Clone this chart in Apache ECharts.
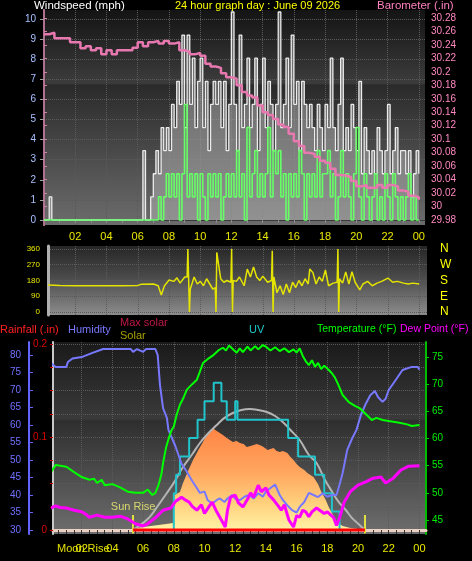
<!DOCTYPE html>
<html><head><meta charset="utf-8">
<script src="https://cdn.jsdelivr.net/npm/echarts@6/dist/echarts.min.js"></script>
<style>html,body{margin:0;padding:0;background:#000;}#c{width:472px;height:561px;}</style>
</head><body><div id="c"></div>
<script>
// ---------- DATA ----------
const hourLabelValues = [2,4,6,8,10,12,14,16,18,20,22,24];
const hourLabelText = ['02','04','06','08','10','12','14','16','18','20','22','00'];
const hourTickValues = [1,2,3,4,5,6,7,8,9,10,11,12,13,14,15,16,17,18,19,20,21,22,23,24];
const halfHourTicks = [0.5,1,1.5,2,2.5,3,3.5,4,4.5,5,5.5,6,6.5,7,7.5,8,8.5,9,9.5,10,10.5,11,11.5,12,12.5,13,13.5,14,14.5,15,15.5,16,16.5,17,17.5,18,18.5,19,19.5,20,20.5,21,21.5,22,22.5,23,23.5,24];

const windLabels = [0,1,2,3,4,5,6,7,8,9,10];
const baroLabels = [29.98,30,30.02,30.04,30.06,30.08,30.1,30.12,30.14,30.16,30.18,30.2,30.22,30.24,30.26,30.28];
const dirLabels = [0,90,180,270,360];
const compassText = ['N','E','S','W','N'];
const humLabels = [30,35,40,45,50,55,60,65,70,75,80];
const rainLabels = [0,0.1,0.2];
const rainTicks = [0,0.025,0.05,0.075,0.1,0.125,0.15,0.175,0.2];
const tempLabels = [45,50,55,60,65,70,75];

// wind: 10-minute samples 00:00 .. 24:00
const windTimes = Array.from({length:145}, (_, i) => i / 6);
const gustMph = [
 0,0,1.15,0,0,0,
 0,0,0,0,0,0,
 0,0,0,0,0,0,
 0,0,0,0,0,0,
 0,0,0,0,0,0,
 0,0,0,0,0,0,
 0,0,3.45,0,0,1.15,
 2.3,3.45,2.3,4.6,3.45,4.6,
 3.45,5.75,4.6,6.9,5.75,9.2,
 4.6,9.2,5.75,8.05,4.6,6.9,
 8.05,4.6,6.9,3.45,5.75,6.9,
 5.75,6.9,4.6,6.9,3.45,5.75,
 10.35,5.75,3.45,9.2,4.6,5.75,
 8.05,4.6,5.75,8.05,3.45,5.75,
 8.05,4.6,6.9,5.75,3.45,5.75,
 10.35,4.6,5.75,8.05,4.6,9.2,
 5.75,6.9,3.45,6.9,5.75,4.6,
 5.75,4.6,3.45,5.75,4.6,3.45,
 5.75,4.6,8.05,4.6,3.45,5.75,
 8.05,3.45,4.6,3.45,5.75,4.6,
 3.45,6.9,2.3,4.6,3.45,2.3,
 3.45,2.3,4.6,3.45,2.3,3.45,
 5.75,2.3,3.45,4.6,2.3,3.45,
 3.45,2.3,3.45,1.15,2.3,3.45,
 2.3];
const avgMph = [
 0,0,0,0,0,0, 0,0,0,0,0,0, 0,0,0,0,0,0, 0,0,0,0,0,0,
 0,0,0,0,0,0, 0,0,0,0,0,0, 0,0,0,0,0,0,
 0,0,1.15,0,1.15,2.3,
 1.15,2.3,1.15,2.3,0,2.3,
 5.75,1.15,2.3,1.15,2.3,0,
 2.3,1.15,0,2.3,1.15,2.3,
 1.15,2.3,0,1.15,2.3,1.15,
 2.3,1.15,3.45,1.15,2.3,0,
 4.6,1.15,2.3,3.45,1.15,2.3,
 1.15,2.3,4.6,1.15,3.45,2.3,
 3.45,1.15,2.3,0,2.3,1.15,
 2.3,1.15,3.45,2.3,0,2.3,
 1.15,2.3,1.15,3.45,1.15,2.3,
 2.3,3.45,1.15,2.3,0,1.15,
 3.45,1.15,2.3,1.15,0,2.3,
 4.6,1.15,0,2.3,1.15,0,
 1.15,2.3,0,1.15,0,2.3,
 1.15,0,2.3,1.15,0,1.15,
 0,1.15,2.3,0,1.15,0,
 0];

// barometer: 20-minute samples
const baroTimes = Array.from({length:73}, (_, i) => i / 3);
const baroInHg = [
 30.256,30.258,30.25, 30.25,30.25,30.244, 30.244,30.235,30.238, 30.232,30.235,30.226,
 30.232,30.226,30.232, 30.232,30.232,30.236, 30.244,30.238,30.244, 30.246,30.242,30.246,
 30.242,30.244,30.232, 30.23,30.226,30.228, 30.224,30.212,30.208, 30.206,30.198,30.192,
 30.19,30.18,30.17, 30.165,30.162,30.15, 30.14,30.136,30.13, 30.122,30.118,30.108,
 30.097,30.09,30.08, 30.078,30.074,30.068, 30.065,30.056,30.047, 30.046,30.044,30.038,
 30.03,30.032,30.028, 30.028,30.032,30.028, 30.032,30.03,30.024, 30.022,30.016,30.014,
 30.01];

// wind direction
const dirTimes = [0.25,1,2,3,4,5,6,6.2,7,7.3,7.5,7.7,8,8.3,8.5,8.7,9,9.15,9.2,9.25,9.3,9.35,9.6,9.8,10,10.2,10.4,10.6,10.8,10.95,11.0,11.05,11.3,11.5,11.7,11.95,12.0,12.05,12.1,12.3,12.5,12.8,13.0,13.2,13.4,13.6,13.8,14.0,14.3,14.55,14.6,14.65,14.7,14.9,15.1,15.3,15.5,15.7,15.9,16.1,16.3,16.5,16.7,16.9,17.0,17.2,17.4,17.6,17.8,18.0,18.2,18.5,18.75,18.8,18.85,18.9,19.1,19.3,19.5,19.7,19.9,20.2,20.4,20.7,21,21.3,21.6,22,22.3,22.6,23,23.3,23.6,24];
const dirDeg = [155,152,150,150,150,150,152,158,160,150,97,150,183,175,195,165,200,200,360,350,0,130,200,160,175,150,190,160,130,140,0,340,190,170,180,170,360,0,180,175,200,150,245,200,257,200,180,205,170,180,350,0,200,110,150,100,160,110,170,140,180,150,190,160,246,225,160,200,175,240,150,165,170,360,0,190,165,229,160,230,170,126,160,175,150,165,175,194,170,175,165,160,165,160];

// temperature / dew point (°F)
const tempTimes = [0,0.3,0.6,1,1.5,2,2.5,2.8,3,3.3,3.5,4,4.5,5,5.5,6,6.3,6.6,6.8,7,7.2,7.3,7.5,7.7,7.85,8,8.2,8.4,8.6,8.85,9.2,9.5,9.7,9.9,10.2,10.6,10.9,11.2,11.4,11.6,11.9,12.1,12.3,12.5,12.8,13.0,13.3,13.5,13.8,14,14.3,14.6,14.9,15.2,15.5,15.8,16.0,16.2,16.4,16.6,16.8,17,17.2,17.4,17.6,17.8,18.1,18.3,18.5,18.7,19,19.4,19.8,20.1,20.5,20.9,21.2,21.6,22,22.7,23.2,23.5,24];
const tempF = [53.8,55.1,55.0,54.8,53.8,52.9,52.4,52.6,51.8,52.4,51.4,51.6,51,50.2,50,50,50.6,49.6,50,51.4,53.5,55.5,58.4,60.3,61.5,62.2,64.5,66.2,67.3,69,70,70.8,72.3,73.9,74.6,75.4,76.2,76.7,76.2,77.1,76.3,75.8,76.6,75.9,76.9,76.2,77.0,76.4,77.2,76.9,76.2,76.8,76.1,76.6,75.9,76.4,75.8,76.6,75.2,74.2,73.5,74.4,73.2,73.9,72.8,73.4,72.6,72.0,71.2,70.0,68,66.7,66.0,65.6,64.5,63.4,63.8,63.4,63.2,62.9,62.6,62.3,62.5];
const dewTimes = [0,0.3,0.6,1,1.5,2,2.3,2.5,3,3.5,4,4.5,5,5.5,6,6.3,6.8,7.3,7.8,8.1,8.5,8.8,9,9.2,9.5,9.8,10,10.3,10.5,10.8,11,11.2,11.35,11.5,11.7,12,12.2,12.5,12.8,13,13.2,13.5,13.7,14,14.2,14.5,14.8,15,15.2,15.5,15.8,16,16.2,16.4,16.6,16.8,17,17.3,17.5,17.8,18,18.2,18.4,18.6,18.8,19.1,19.5,20,20.5,21,21.5,21.8,22.3,22.8,23.3,24];
const dewF = [47.2,47.6,47.3,47.2,46.8,46.5,46.0,45.5,45.9,45.5,45.5,45.7,45.2,44.3,43.9,44.3,45.4,46.8,47.2,48.4,49.2,48.6,48.3,47.5,46.8,47.8,46.2,47.5,48.3,46.5,45.5,44.5,43.7,46.8,49.2,49.6,48.2,47.4,48.8,50,49.2,51.4,50.2,50.9,49.6,48.7,47.6,46.8,47.8,45,43.7,45.8,45.5,46.8,46.5,45.6,46.5,47.2,46.8,46.2,46.5,46.0,45.5,44.0,45.4,48.3,50.2,51.4,52,52.7,52.9,51.8,52.7,54.2,54.9,55];

// humidity (%)
const humTimes = [0,0.3,1,1.1,1.4,2,2.7,3.4,5.2,5.35,5.6,6,6.2,6.8,6.95,7.1,7.3,7.55,7.65,7.75,8.1,8.5,8.8,9.2,9.5,9.7,10,10.2,10.5,10.8,11,11.3,11.5,11.8,12,12.3,12.6,12.9,13.2,13.5,13.8,14,14.3,14.6,14.9,15.1,15.4,15.7,16,16.2,16.5,16.8,17.1,17.4,17.7,18,18.3,18.6,18.8,19,19.3,19.6,19.9,20.2,20.5,20.8,21.1,21.3,21.6,21.8,22,22.4,22.9,23.5,23.9,24];
const humPct = [77.7,76.6,76.6,78,79,79.4,80.6,81.7,81.7,80.9,81.7,80.9,81.7,81.7,80,71.4,64.8,62,58.6,58.6,54,49,47,44,42,40.6,41,38.6,37.5,38.6,39,38,39,40,39,38.5,39.5,40,39,40.5,39.5,41,42,43,40,38.6,37,35.7,35,36.6,38,40.6,40,39.4,40.5,39.5,40,40,43,46.3,52.9,56,58.6,63,66,68.5,69.7,68,66.6,67.5,70,72.5,75.7,76.6,76.6,75.8];

// solar radiation (W/m²) and theoretical max solar
const solarTimes = [5.35,5.6,6.0,6.5,7.0,7.5,7.95,8.05,8.4,8.6,8.9,9.25,9.6,9.9,10.2,10.4,10.55,10.7,11.0,11.2,11.45,11.85,12.1,12.3,12.55,12.75,13.0,13.2,13.4,13.6,13.85,14.1,14.3,14.5,14.7,14.9,15.1,15.4,15.6,15.8,16.0,16.2,16.5,16.7,16.9,17.1,17.4,17.6,17.9,18.1,18.4,18.6,19.0,19.5,20.0,20.45];
const solarWm2 = [0,14,21,28,35,42,49,245,266,329,406,490,560,616,679,700,714,700,679,665,644,616,623,609,602,581,588,595,602,595,581,560,567,574,553,546,553,539,511,490,462,441,420,399,385,371,320,270,210,160,100,56,28,14,7,0];
const maxSolarTimes = [5.35,6.0,6.45,7.0,7.55,8.0,8.6,9.2,9.7,10.2,10.8,11.3,11.85,12.4,12.95,13.5,14.05,14.6,15.1,15.6,16.2,16.8,17.3,17.85,18.3,18.75,19.2,19.6,20.0,20.45];
const maxSolarWm2 = [0,50,93,175,259,330,441,530,609,672,735,785,819,840,847,840,826,798,756,700,630,525,469,350,270,195,140,85,45,0];

// UV index (steps)
const uvTimes = [8.0,8.0,8.15,8.4,9.0,9.55,10.0,10.6,11.1,11.45,12.0,12.15,15.45,16.1,17.2,17.8,18.3,18.8];
const uvIndex = [0,2,3,4,5,6,7,8,7,6,7,6,5,4,3,2,1,0];

// rainfall (in) over the day-light bar
const rainTimes = [5.35,20.45];
const rainIn = [0,0];

const sunEvents = [{name:'Sun Rise', t:5.35},{name:'', t:20.45}];

// ---------- CHART ----------
const FONT = 'Liberation Sans, Arial, sans-serif';
const pair = (xs, ys) => xs.map((x, i) => [x, ys[i]]);
const bg = (stops) => new echarts.graphic.LinearGradient(0,0,0,1, stops.map(s => ({offset:s[0], color:s[1]})));
const hourFmt = v => { const i = hourLabelValues.indexOf(Math.round(v)); return i >= 0 ? hourLabelText[i] : ''; };
const dotted = {show:true, lineStyle:{type:'dotted', color:'#5a5a5a', width:1}};
const noAxis = {axisLine:{show:false}, axisTick:{show:false}, axisLabel:{show:false}, splitLine:{show:false}};

const chart = echarts.init(document.getElementById('c'), null, {renderer:'canvas'});
const txt = (text, left, top, fill, size) => ({type:'text', left, top, style:{text, fill, font: (size||11) + 'px ' + FONT}});

chart.setOption({
  backgroundColor:'#000',
  animation:false,
  graphic:[
    txt('Windspeed (mph)', 34, 0, '#ffffff', 11.5),
    txt('24 hour graph day : June 09 2026', 175, 0, '#ffff00', 11),
    txt('Barometer (.in)', 377, 0, '#ff80c0', 11.5),
    txt('Rainfall (.in)', 0, 324, '#ff2020'),
    txt('Humidity', 68, 324, '#7878ff'),
    txt('Max solar', 120, 317, '#c01848'),
    txt('Solar', 120, 330, '#a8a000'),
    txt('UV', 249, 324, '#20c8c8'),
    txt('Temperature (°F)', 317, 324, '#00ff00', 10.5),
    txt('Dew Point (°F)', 400, 324, '#ff00ff', 10.5),
    txt('Moon Rise', 57, 543, '#e0e000')
  ],
  grid:[
    {left:44, right:47, top:10, height:215, show:true, borderWidth:0,
     backgroundColor: bg([[0,'#141414'],[0.34,'#3c3c3c'],[0.35,'#2a2a2a'],[1,'#6c6c6c']])},
    {left:48, right:45, top:246, height:69, show:true, borderWidth:0,
     backgroundColor: bg([[0,'#262626'],[0.45,'#4a4a4a'],[1,'#8c8c8c']])},
    {left:53, right:46, top:342, height:192, show:true, borderWidth:0,
     backgroundColor: bg([[0,'#1a1a1a'],[0.4,'#3a3a3a'],[0.41,'#2e2e2e'],[1,'#6e6e6e']])}
  ],
  xAxis:[
    {type:'value', gridIndex:0, min:0, max:24.4, position:'bottom',
     axisLine:{show:true, lineStyle:{color:'#3a3a3a'}},
     axisTick:{show:true, customValues:hourTickValues, length:3, lineStyle:{color:'#8a8a8a'}},
     axisLabel:{customValues:hourLabelValues, formatter:hourFmt, color:'#e8e800', fontSize:11, fontFamily:FONT, margin:6},
     splitLine:{show:false}},
    {type:'value', gridIndex:0, min:0, max:24.4, position:'top',
     axisLine:{show:false}, axisLabel:{show:false},
     axisTick:{show:false, customValues:hourLabelValues}, splitLine:dotted},
    {type:'value', gridIndex:1, min:0.25, max:24.5, position:'bottom',
     axisLine:{show:false}, axisLabel:{show:false},
     axisTick:{show:false, customValues:hourLabelValues}, splitLine:dotted},
    {type:'value', gridIndex:2, min:0.13, max:24.43, position:'bottom',
     axisLine:{show:true, lineStyle:{color:'#ecd0c4', width:3}},
     axisTick:{show:true, customValues:halfHourTicks, length:4, lineStyle:{color:'#303030'}},
     axisLabel:{customValues:hourLabelValues, formatter:hourFmt, color:'#e8e800', fontSize:11, fontFamily:FONT, margin:9},
     splitLine:{show:false}},
    {type:'value', gridIndex:2, min:0.13, max:24.43, position:'top',
     axisLine:{show:false}, axisLabel:{show:false},
     axisTick:{show:false, customValues:hourLabelValues}, splitLine:dotted}
  ],
  yAxis:[
    {type:'value', gridIndex:0, position:'left', min:-0.25, max:10.45,
     axisLine:{show:true, lineStyle:{color:'#8a8a8a', width:2}},
     axisTick:{show:true, customValues:windLabels, length:4, lineStyle:{color:'#a0a0a0'}},
     axisLabel:{customValues:windLabels, color:'#a8c0ff', fontSize:10, fontFamily:FONT, margin:8},
     splitLine:dotted},
    {type:'value', gridIndex:0, position:'right', min:29.9726, max:30.2919,
     axisLine:{show:true, lineStyle:{color:'#b07090', width:2}},
     axisTick:{show:true, customValues:baroLabels, length:3, lineStyle:{color:'#d080a8'}},
     axisLabel:{customValues:baroLabels, formatter:v => String(+(+v).toFixed(2)), color:'#ff88c0', fontSize:10, fontFamily:FONT, margin:6},
     splitLine:{show:false}},
    {type:'value', gridIndex:1, position:'left', min:-17, max:377,
     axisLine:{show:true, lineStyle:{color:'#b0b0b0', width:3}},
     axisTick:{show:false, customValues:dirLabels},
     axisLabel:{customValues:dirLabels, color:'#e8e800', fontSize:8, fontFamily:FONT, margin:8},
     splitLine:dotted},
    {type:'value', gridIndex:1, position:'right', min:-17, max:377,
     axisLine:{show:false}, axisTick:{show:false},
     axisLabel:{customValues:dirLabels, formatter:v => compassText[dirLabels.indexOf(Math.round(v))] || '', color:'#ffff00', fontSize:12, fontFamily:FONT, margin:13},
     splitLine:{show:false}},
    {type:'value', gridIndex:2, position:'left', offset:24, min:28.857, max:83.714,
     axisLine:{show:true, lineStyle:{color:'#6464ff', width:2}},
     axisTick:{show:true, inside:true, customValues:humLabels, length:4, lineStyle:{color:'#6464ff'}},
     axisLabel:{customValues:humLabels, color:'#7070ff', fontSize:10, fontFamily:FONT, margin:8},
     splitLine:{show:false}},
    {type:'value', gridIndex:2, position:'left', offset:0, min:-0.0043, max:0.2022,
     axisLine:{show:true, lineStyle:{color:'#c8c8c8', width:2}},
     axisTick:{show:true, customValues:rainTicks, length:3, lineStyle:{color:'#cc0000'}},
     axisLabel:{customValues:rainLabels, color:'#dd0000', fontSize:10, fontFamily:FONT, margin:6},
     splitLine:dotted},
    {type:'value', gridIndex:2, position:'right', min:42.42, max:77.76,
     axisLine:{show:true, lineStyle:{color:'#00bb00', width:2}},
     axisTick:{show:true, customValues:tempLabels, length:3, lineStyle:{color:'#00cc00'}},
     axisLabel:{customValues:tempLabels, color:'#00ee00', fontSize:10, fontFamily:FONT, margin:6},
     splitLine:{show:false}},
    Object.assign({type:'value', gridIndex:2, min:-0.217, max:10.22}, noAxis),
    Object.assign({type:'value', gridIndex:2, min:-28, max:1316}, noAxis)
  ],
  series:[
    {name:'Gust', type:'line', xAxisIndex:0, yAxisIndex:0, step:'end', symbol:'none', z:2,
     data:pair(windTimes, gustMph), lineStyle:{color:'#ececec', width:1.3},
     areaStyle:{color:'rgba(200,200,200,0.6)'}},
    {name:'Wind', type:'line', xAxisIndex:0, yAxisIndex:0, step:'end', symbol:'none', z:3,
     data:pair(windTimes, avgMph), lineStyle:{color:'#66ff66', width:1.6}},
    {name:'Barometer', type:'line', xAxisIndex:0, yAxisIndex:1, step:'end', symbol:'none', z:4,
     data:pair(baroTimes, baroInHg), lineStyle:{color:'#e878b0', width:2.5}},
    {name:'Direction', type:'line', xAxisIndex:2, yAxisIndex:2, symbol:'none', z:3,
     data:pair(dirTimes, dirDeg), lineStyle:{color:'#e4e400', width:1.5}},
    {name:'Solar', type:'line', xAxisIndex:3, yAxisIndex:8, symbol:'none', z:1,
     data:pair(solarTimes, solarWm2), lineStyle:{width:0},
     areaStyle:{opacity:1, color: bg([[0,'#ff8444'],[0.45,'#ffa860'],[0.75,'#ffd27e'],[1,'#fff2a6']])}},
    {name:'Max solar', type:'line', xAxisIndex:3, yAxisIndex:8, symbol:'none', smooth:0.4, z:2,
     data:pair(maxSolarTimes, maxSolarWm2), lineStyle:{color:'#b4b4b4', width:2}},
    {name:'UV', type:'line', xAxisIndex:3, yAxisIndex:7, step:'end', symbol:'none', z:3,
     data:pair(uvTimes, uvIndex), lineStyle:{color:'#22c4cc', width:2}},
    {name:'Rainfall', type:'line', xAxisIndex:3, yAxisIndex:5, symbol:'none', z:6,
     data:pair(rainTimes, rainIn), lineStyle:{color:'#ff0000', width:3}},
    {name:'Humidity', type:'line', xAxisIndex:3, yAxisIndex:4, symbol:'none', z:4,
     data:pair(humTimes, humPct), lineStyle:{color:'#7878ff', width:2},
     markLine:{symbol:['none','none'], silent:true, animation:false,
       lineStyle:{color:'#e0e040', width:2, type:'solid'},
       label:{show:true, position:'end', formatter:p => p.name, color:'#d8d870', fontSize:11, fontFamily:FONT, distance:2},
       data: sunEvents.map(e => [{name:e.name, coord:[e.t, 29.0]}, {coord:[e.t, 34.3]}])}},
    {name:'Temperature', type:'line', xAxisIndex:3, yAxisIndex:6, symbol:'none', z:4,
     data:pair(tempTimes, tempF), lineStyle:{color:'#00ff00', width:2}},
    {name:'Dew Point', type:'line', xAxisIndex:3, yAxisIndex:6, symbol:'none', z:5,
     data:pair(dewTimes, dewF), lineStyle:{color:'#ff00ff', width:3}}
  ]
});
</script></body></html>
